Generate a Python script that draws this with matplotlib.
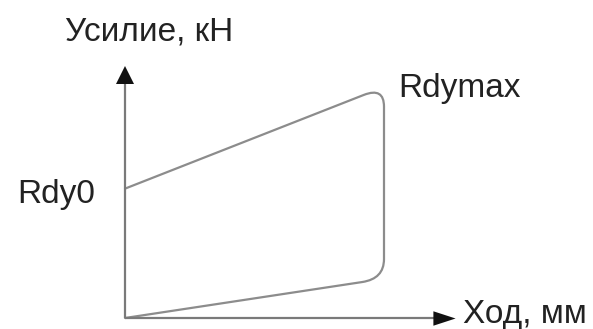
import numpy as np
import matplotlib
matplotlib.use("Agg")
import matplotlib.pyplot as plt
from matplotlib.path import Path
from matplotlib.patches import PathPatch

# Characteristic corner points (stroke, force) - arbitrary units
stroke_pts = [0, 100, 100, 0]
force_pts = [56, 100, 17, 0]
labels = ["Rdy0", "Rdymax"]
x_label = "Ход, мм"
y_label = "Усилие, кН"

plt.rcParams['font.family'] = ['Liberation Sans', 'DejaVu Sans']

fig = plt.figure(figsize=(5.93, 3.29), dpi=100)
ax = fig.add_axes([0, 0, 1, 1])
# pixel mapping: origin at (125, 318), 2.59 px per stroke unit, 2.31 px per force unit
sx, sy = 2.59, 2.31
ax.set_xlim(-125 / sx, (593 - 125) / sx)
ax.set_ylim((318 - 329) / sy, 318 / sy)
ax.axis("off")

# closed loop with rounded corners at the two right-hand points
pts = np.column_stack([stroke_pts, force_pts]).astype(float)
r = 8.5  # rounding size in data units


def towards(a, b, d):
    v = b - a
    return a + v / np.linalg.norm(v) * d


verts = [pts[0]]
codes = [Path.MOVETO]
for i in (1, 2):
    c = pts[i]
    p_in = towards(c, pts[i - 1], r)
    p_out = towards(c, pts[i + 1], r)
    verts += [p_in, c, p_out]
    codes += [Path.LINETO, Path.CURVE3, Path.CURVE3]
verts.append(pts[3])
codes.append(Path.LINETO)
ax.add_patch(PathPatch(Path(verts, codes), fill=False, edgecolor="#8c8c8c",
                       lw=1.6, capstyle="round", joinstyle="round"))

# axes with arrow heads
x_tip = (455 - 125) / sx
y_tip = (318 - 67) / sy
ax.plot([0, x_tip - 8], [0, 0], color="#7a7a7a", lw=1.6, solid_capstyle="butt")
ax.plot([0, 0], [0, y_tip - 6], color="#7a7a7a", lw=1.6, solid_capstyle="butt")
ax.plot(x_tip - 11 / sx, 0, marker=[(-1, -0.65), (1, 0), (-1, 0.65)],
        markersize=16, color="#111111", mew=0)
ax.plot(0, y_tip - 8 / sy, marker="^", markersize=13, color="#111111", mew=0)

# texts
fs = 24
tc = "#222222"
ax.text(-23.2, 120.3, y_label, fontsize=fs, color=tc, ha="left", va="baseline")
ax.text(130.5, -2.2, x_label, fontsize=fs, color=tc, ha="left", va="baseline")
ax.text(-41.7, 49.8, labels[0], fontsize=fs, color=tc, ha="left", va="baseline")
ax.text(105.4, 95.7, labels[1], fontsize=fs, color=tc, ha="left", va="baseline")

fig.savefig("out.png", dpi=100, facecolor="white")
